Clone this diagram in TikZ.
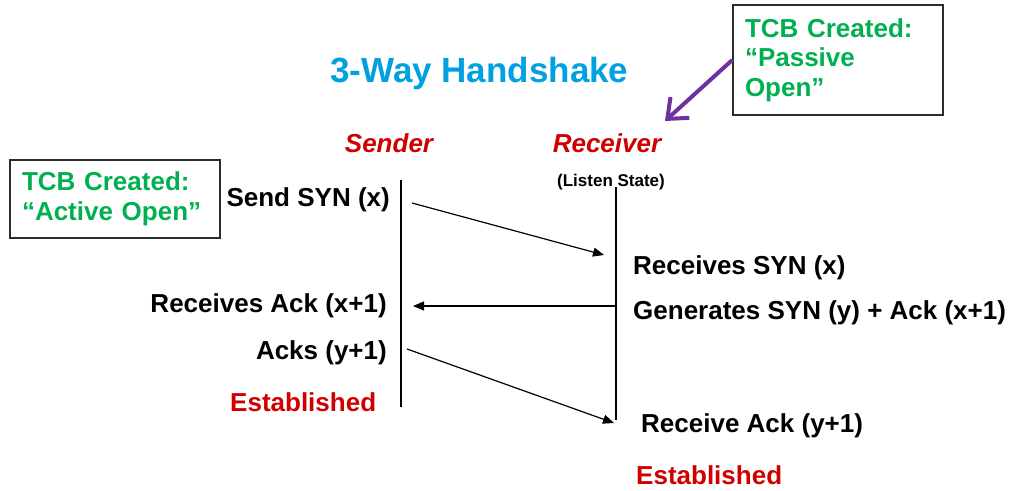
\documentclass[tikz,border=0pt]{standalone}
\usepackage{fontspec}
\setmainfont{Liberation Sans}
\usetikzlibrary{arrows.meta}
\definecolor{titleblue}{RGB}{0,160,225}
\definecolor{labred}{RGB}{208,0,0}
\definecolor{tcbgreen}{RGB}{0,176,80}
\definecolor{arrpurple}{RGB}{112,48,160}
\definecolor{boxline}{RGB}{45,45,45}
\begin{document}
\begin{tikzpicture}[x=1pt,y=-1pt,
  lbl/.style={font=\bfseries\fontsize{26}{29}\selectfont, inner sep=0pt},
  redlbl/.style={lbl, text=labred},
  rolelbl/.style={font=\bfseries\itshape\fontsize{26}{29}\selectfont, text=labred, inner sep=0pt},
  tcbbox/.style={draw=boxline, line width=1.5pt, text=tcbgreen, align=left,
     font=\bfseries\fontsize{26}{29.5}\selectfont, minimum width=210pt, inner xsep=12pt, inner ysep=0pt},
  lifeline/.style={line width=1.4pt, black},
  msg/.style={line width=1.2pt, -{Triangle[length=11pt,width=9pt]}},
  pointer/.style={line width=4pt, arrpurple, -{Straight Barb[length=17pt,width=28pt]}}
]
\useasboundingbox (0,0) rectangle (1012,490);

% title
\node[font=\bfseries\fontsize{35}{40}\selectfont, text=titleblue, inner sep=0pt, anchor=base west] (title) at (330,82) {3-Way Handshake};

% roles
\node[rolelbl, anchor=base] (sender) at (389,152) {Sender};
\node[rolelbl, anchor=base] (receiver) at (607,152) {Receiver};
\node[font=\bfseries\fontsize{17}{20}\selectfont, inner sep=0pt, anchor=base] (listen) at (611,186) {(Listen State)};

% TCB boxes
\node[tcbbox, minimum height=78pt, text width=186pt] (active) at (115,199) {TCB Created:\\“Active Open”};
\node[tcbbox, minimum height=110pt, text width=186pt] (passive) at (838,60) {TCB Created:\\“Passive\\Open”};

% lifelines
\coordinate (s1) at (401,180);
\coordinate (s2) at (401,407);
\coordinate (r1) at (616,187);
\coordinate (r2) at (616,420);
\draw[lifeline] (s1) -- (s2);
\draw[lifeline] (r1) -- (r2);

% sender labels
\node[lbl, anchor=base east] (sendsyn) at (390,206) {Send SYN (x)};
\node[lbl, anchor=base east] (recack) at (387,312) {Receives Ack (x+1)};
\node[lbl, anchor=base east] (acks) at (387,359) {Acks (y+1)};
\node[redlbl, anchor=base west] (estS) at (230,411) {Established};

% receiver labels
\node[lbl, anchor=base west] (recsyn) at (633,274) {Receives SYN (x)};
\node[lbl, anchor=base west] (gensyn) at (633,319) {Generates SYN (y) + Ack (x+1)};
\node[lbl, anchor=base west] (recvack) at (641,432) {Receive Ack (y+1)};
\node[redlbl, anchor=base west] (estR) at (636,484) {Established};

% messages
\coordinate (m1s) at (412,203);
\coordinate (m1e) at (604,255);
\coordinate (m2s) at (616,306);
\coordinate (m2e) at (413,306);
\coordinate (m3s) at (407,349);
\coordinate (m3e) at (614,423);
\draw[msg] (m1s) -- (m1e);
\draw[msg] (m2s) -- (m2e);
\draw[msg] (m3s) -- (m3e);

% purple pointer
\coordinate (ptip) at (665,121);
\draw[pointer] (passive.west) -- (ptip);
\end{tikzpicture}
\end{document}
